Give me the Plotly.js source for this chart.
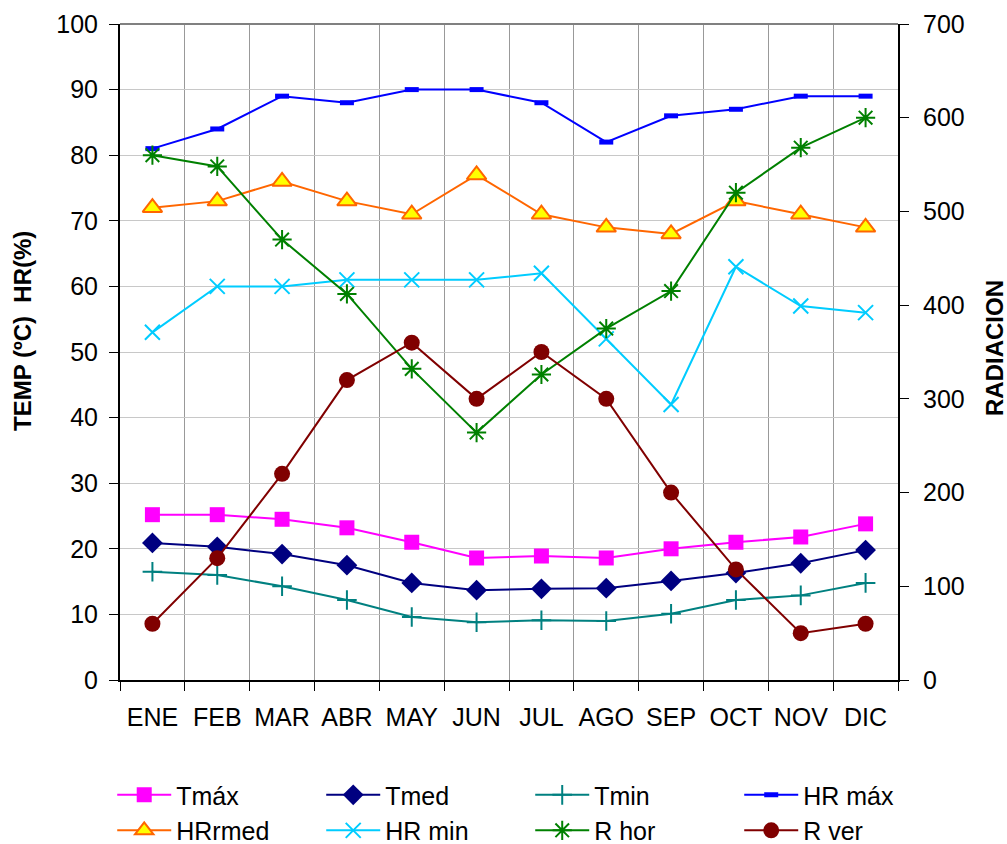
<!DOCTYPE html>
<html><head><meta charset="utf-8">
<script src="https://cdn.plot.ly/plotly-3.0.1.min.js"></script>
<style>html,body{margin:0;padding:0;background:#fff}#c{width:1007px;height:844px}</style>
</head><body><div id="c"></div>
<script>
const months = ["ENE","FEB","MAR","ABR","MAY","JUN","JUL","AGO","SEP","OCT","NOV","DIC"];
const tmax = [25.2,25.2,24.5,23.2,21.0,18.6,18.9,18.6,20.0,21.0,21.8,23.8];
const tmed = [20.9,20.3,19.2,17.5,14.8,13.7,13.9,14.0,15.1,16.3,17.8,19.8];
const tmin = [16.5,16.0,14.3,12.2,9.6,8.8,9.1,9.0,10.1,12.2,12.9,14.8];
const hrmax = [81,84,89,88,90,90,88,82,86,87,89,89];
const hrmed = [72,73,76,73,71,77,71,69,68,73,71,69];
const hrmin = [53,60,60,61,61,61,62,52,42,63,57,56];
const rhor = [560,548,470,412,332,264,326,375,415,520,568,600];
const rver = [60,130,220,320,360,300,350,300,200,118,50,60];

function tr(name, y, color, marker, axis){
  return {x: months, y: y, name: name, type:'scatter', mode:'lines+markers',
    yaxis: axis||'y', line:{color:color, width:2}, marker: marker};
}
const data = [
  tr('Tmáx', tmax, '#FF00FF', {symbol:'square', size:15, color:'#FF00FF'}),
  tr('Tmed', tmed, '#000080', {symbol:'diamond', size:16, color:'#000080'}),
  tr('Tmin', tmin, '#008080', {symbol:'cross-thin', size:14, color:'#008080', line:{color:'#008080', width:2}}),
  tr('HR máx', hrmax, '#0000FF', {symbol:'line-ew', size:10, color:'#0000FF', line:{color:'#0000FF', width:5}}),
  tr('HRrmed', hrmed, '#FF6600', {symbol:'triangle-up', size:17, color:'#FFFF00', line:{color:'#FF6600', width:2}}),
  tr('HR min', hrmin, '#00CCFF', {symbol:'x-thin', size:15, color:'#00CCFF', line:{color:'#00CCFF', width:2}}),
  tr('R hor', rhor, '#008000', {symbol:'asterisk', size:16, color:'#008000', line:{color:'#008000', width:2}}, 'y2'),
  tr('R ver', rver, '#800000', {symbol:'circle', size:16, color:'#800000'}, 'y2')
];
const F = 'Liberation Sans, Arial, sans-serif';
const layout = {
  width:1007, height:844,
  margin:{l:120, r:109, t:24, b:164, autoexpand:false},
  paper_bgcolor:'#fff', plot_bgcolor:'#fff',
  font:{family:F, size:25, color:'#000'},
  showlegend:true,
  xaxis:{type:'category', tickson:'boundaries', showgrid:true, gridcolor:'#999', gridwidth:1,
    showline:true, linecolor:'#000', linewidth:2, ticks:'outside', ticklen:9, tickcolor:'#000',
    tickfont:{size:25}, range:[-0.5,11.5], zeroline:false, ticklabelstandoff:14},
  yaxis:{range:[0,100], dtick:10, showgrid:true, gridcolor:'#c8c8c8', showline:true, linecolor:'#000', linewidth:2,
    ticks:'outside', ticklen:9, tickcolor:'#000', zeroline:false, tickfont:{size:25}, ticklabelstandoff:6},
  yaxis2:{range:[0,700], dtick:100, overlaying:'y', side:'right', showgrid:false, showline:true, linecolor:'#000', linewidth:2,
    ticks:'outside', ticklen:9, tickcolor:'#000', zeroline:false, tickfont:{size:25}, ticklabelstandoff:9},
  legend:{orientation:'h', xref:'paper', x:-0.01, xanchor:'left', y:-0.1404, yanchor:'top',
    entrywidth:140, entrywidthmode:'pixels', font:{size:25}, tracegroupgap:0, itemwidth:54},
  annotations:[
    {text:'<b>TEMP (ºC)  HR(%)</b>', xref:'paper', yref:'paper', x:(22-120)/778, y:(680-331)/656,
     xanchor:'center', yanchor:'middle', textangle:-90, showarrow:false, font:{size:24}},
    {text:'<b>RADIACION</b>', xref:'paper', yref:'paper', x:(994-120)/778, y:(680-348)/656,
     xanchor:'center', yanchor:'middle', textangle:-90, showarrow:false, font:{size:24}}
  ],
  shapes:[{type:'line', xref:'paper', yref:'paper', x0:0, x1:1, y0:1, y1:1, line:{color:'#808080', width:2}}]
};
Plotly.newPlot('c', data, layout, {displayModeBar:false, staticPlot:true});
</script></body></html>
